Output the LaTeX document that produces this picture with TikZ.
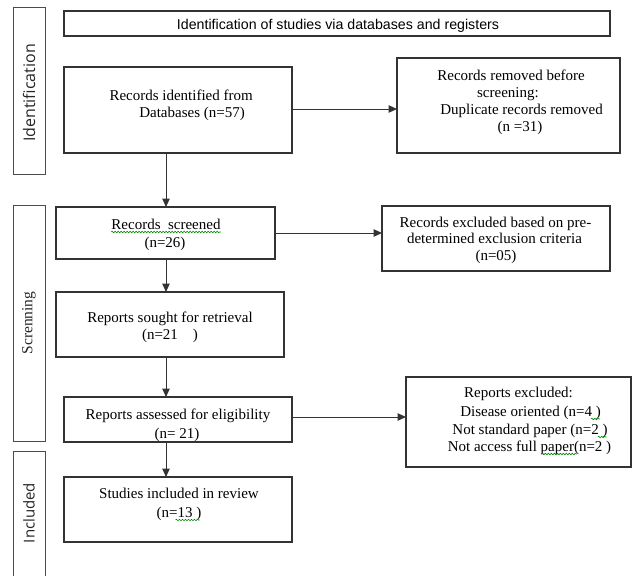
\documentclass[tikz,border=0pt]{standalone}
\usepackage{fontspec}
\setmainfont{Liberation Serif}
\newfontfamily\hdrfont{Liberation Sans}
\newfontfamily\sidefont{Open Sans}
\usetikzlibrary{arrows.meta,calc,decorations.pathmorphing}
\begin{document}
\begin{tikzpicture}[x=1pt,y=-1pt,
  boxn/.style={draw=black!80,line width=1.1pt,inner sep=0pt,outer sep=0pt,anchor=north west},
  sidebox/.style={draw=black!70,line width=1pt},
  txt/.style={inner sep=0pt,font=\fontsize{15}{18}\selectfont},
  hdr/.style={inner sep=0pt,font=\hdrfont\fontsize{14.2}{17}\selectfont},
  side/.style={inner sep=0pt,rotate=90,font=\sidefont\fontsize{15}{18}\selectfont,text=black!85},
  arr/.style={draw=black!80,line width=1pt,-{Triangle[length=8.5pt,width=7.5pt]}},
  squig/.style={draw=green!55!black,line width=0.6pt,decorate,decoration={snake,amplitude=0.8pt,segment length=3pt}}
]
\useasboundingbox (0,0) rectangle (635,576);
% side boxes
\node[boxn,sidebox,minimum width=32pt,minimum height=167pt] (sideid) at (13,7) {};
\node[boxn,sidebox,minimum width=32pt,minimum height=236pt] (sidescr) at (13,205) {};
\draw[sidebox] (13,590) -- (13,451) -- (45,451) -- (45,590);
\coordinate (sideinc) at (29,513);
\node[side,font=\sidefont\fontsize{16}{19}\selectfont] (lid) at (29,93) {Identification};
\node[side,font=\fontsize{15.5}{18}\selectfont] (lscr) at (29,323) {Screnning};
\node[side] (linc) at (sideinc) {Included};
% boxes
\node[boxn,minimum width=546pt,minimum height=25pt] (header) at (64,11) {};
\node[boxn,minimum width=228pt,minimum height=86pt] (ident) at (64,67) {};
\node[boxn,minimum width=223pt,minimum height=95pt] (removed) at (397,58) {};
\node[boxn,minimum width=219pt,minimum height=52pt] (screened) at (56,207) {};
\node[boxn,minimum width=228pt,minimum height=65pt] (excla) at (382,206) {};
\node[boxn,minimum width=228pt,minimum height=65pt] (sought) at (56,292) {};
\node[boxn,minimum width=228pt,minimum height=45pt] (assessed) at (64,397) {};
\node[boxn,minimum width=225pt,minimum height=90pt] (exclb) at (406,377) {};
\node[boxn,minimum width=228pt,minimum height=65pt] (studies) at (64,477) {};
% texts
\node[hdr,anchor=base] (th) at (338,29) {Identification of studies via databases and registers};
\node[txt,anchor=base east] (ti1) at (253,100) {Records identified from};
\node[txt,anchor=base east] (ti2) at (245,117) {Databases (n=57)};
\node[txt,anchor=base east] (tr1) at (585,80) {Records removed before};
\node[txt,anchor=base east] (tr2) at (539,97) {screening:};
\node[txt,anchor=base east] (tr3) at (603,114) {Duplicate records removed};
\node[txt,anchor=base] (tr4) at (520,131) {(n =31)};
\node[txt,anchor=base] (ts1) at (166,229) {Records\ \ screened};
\node[txt,anchor=base] (ts2) at (165,247) {(n=26)};
\node[txt,anchor=base] (te1) at (495.5,227) {Records excluded based on pre-};
\node[txt,anchor=base] (te2) at (494.5,243) {determined exclusion criteria};
\node[txt,anchor=base] (te3) at (496,260) {(n=05)};
\node[txt,anchor=base] (tg1) at (170,322) {Reports sought for retrieval};
\node[txt,anchor=base] (tg2) at (170,339) {(n=21\ \ \ \ )};
\node[txt,anchor=base] (ta1) at (178,419) {Reports assessed for eligibility};
\begin{scope}
\clip (64,420) rectangle (292,441.5);
\node[txt,anchor=base] (ta2) at (177,438) {(n= 21)};
\end{scope}
\node[txt,anchor=base] (tx1) at (518.5,397) {Reports excluded:};
\node[txt,anchor=base] (tx2) at (530.5,416) {Disease oriented (n=4 )};
\node[txt,anchor=base] (tx3) at (530,434) {Not standard paper (n=2 )};
\node[txt,anchor=base] (tx4) at (529.5,451) {Not access full paper(n=2 )};
\node[txt,anchor=base] (tt1) at (179,498) {Studies included in review};
\node[txt,anchor=base] (tt2) at (179,517) {(n=13 )};
% spell-check squiggles
\draw[squig] ($(ts1.base west)+(0,3)$) -- ($(ts1.base east)+(0,3)$);
\draw[squig] ($(tx2.base east)+(-10,3)$) -- ($(tx2.base east)+(-1,3)$);
\draw[squig] ($(tx3.base east)+(-10,3)$) -- ($(tx3.base east)+(-1,3)$);
\draw[squig] ($(tx4.base east)+(-70,3)$) -- ($(tx4.base east)+(-34,3)$);
\draw[squig] ($(tt2.base east)+(-26,3)$) -- ($(tt2.base east)+(-2,3)$);
% connectors
\coordinate (cx) at (166,0);
\draw[arr] (ident.east |- 0,109) -- (removed.west |- 0,109);
\draw[arr] (ident.south -| cx) -- (screened.north -| cx);
\draw[arr] (screened.east) -- (excla.west |- screened.east);
\draw[arr] (screened.south -| cx) -- (sought.north -| cx);
\draw[arr] (sought.south -| cx) -- (assessed.north -| cx);
\draw[arr] (assessed.east |- 0,417) -- (exclb.west |- 0,417);
\draw[arr] (assessed.south -| cx) -- (studies.north -| cx);
\end{tikzpicture}
\end{document}
